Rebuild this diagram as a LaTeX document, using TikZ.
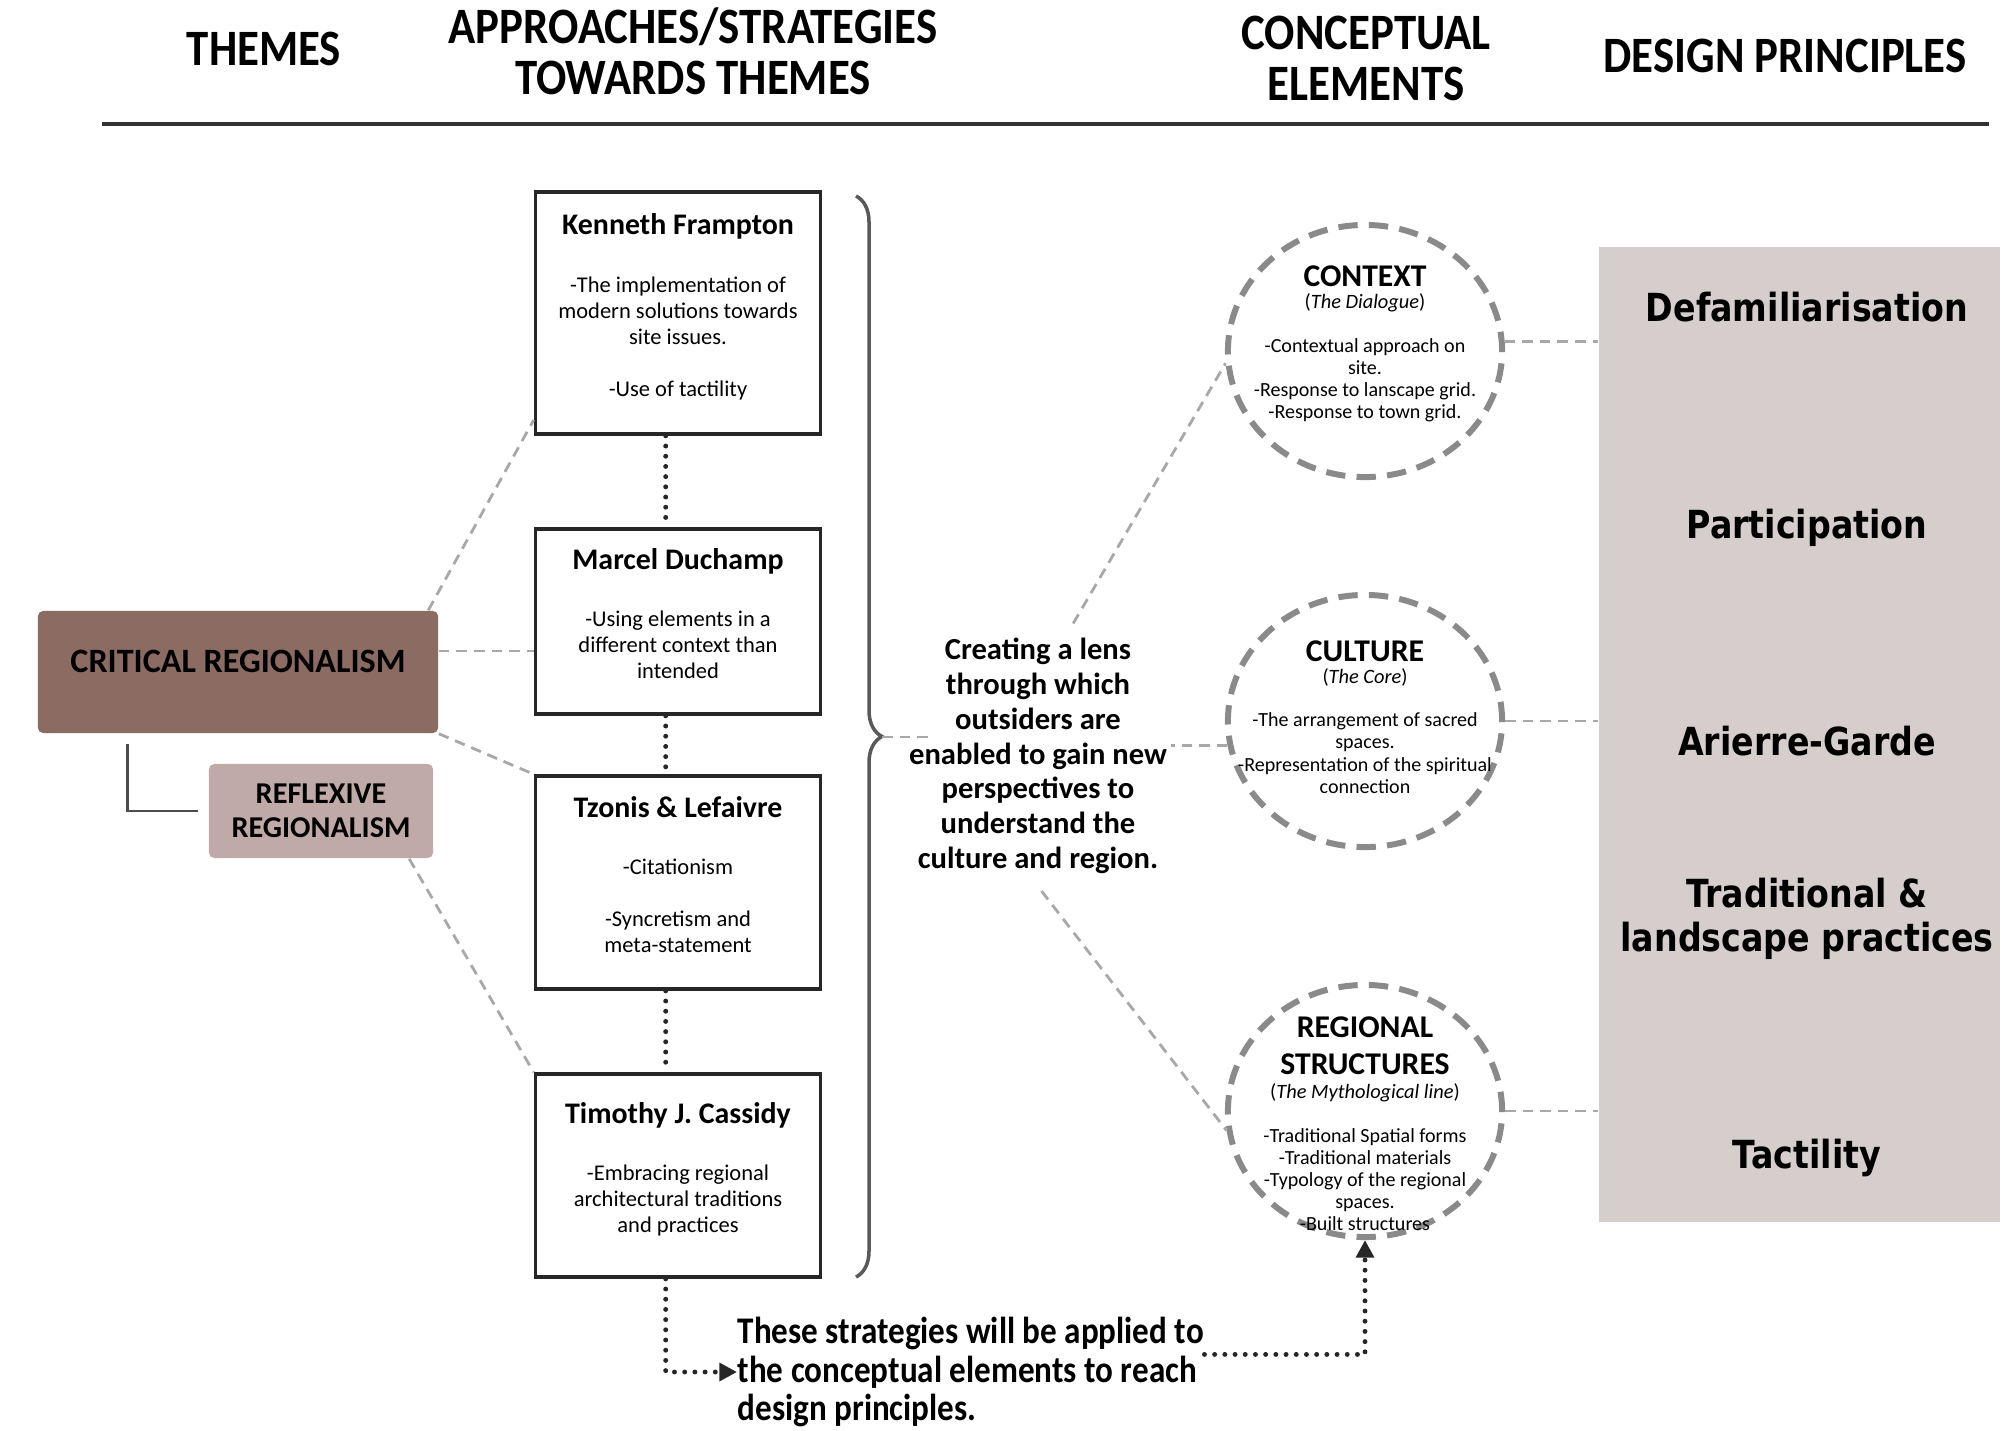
\documentclass[tikz,border=0pt]{standalone}
\usepackage{fontspec}
\setmainfont{Carlito}
\newfontfamily\headfont[FakeStretch=0.88]{Carlito}
\newfontfamily\panelfont[FakeStretch=0.86]{DejaVu Sans}
\usepackage{tikz}
\usetikzlibrary{arrows.meta}
\usetikzlibrary{positioning,calc,decorations.pathreplacing}
\usetikzlibrary{shapes.geometric}
\usepackage{xcolor}
\definecolor{crbrown}{RGB}{139,107,98}
\definecolor{rxpink}{RGB}{191,170,168}
\definecolor{panelgray}{RGB}{214,206,205}
\definecolor{linkgray}{RGB}{168,168,168}
\definecolor{ringgray}{RGB}{138,138,138}
\newcommand{\apname}[1]{{\fontsize{8.5}{10}\selectfont\bfseries #1}}
\newcommand{\ringname}[1]{{\fontsize{9}{10.5}\selectfont\bfseries #1}}
\newcommand{\ringsub}[1]{{\fontsize{5.8}{7}\selectfont(\textit{#1})}}
\tikzset{
    colhead/.style={
        align=center,
        inner sep=0pt,
        font=\headfont\bfseries\fontsize{14.5}{14.5}\selectfont
    },
    theme/.style={
        rounded corners=1.5pt,
        align=center,
        inner sep=0pt
    },
    apbox/.style={
        draw=black!85,
        line width=1pt,
        fill=white,
        minimum width=2.85cm,
        align=center,
        inner sep=2pt,
        text depth=4.5pt,
        font=\fontsize{6.4}{7.4}\selectfont
    },
    ring/.style={
        ellipse,
        draw=ringgray,
        line width=1.7pt,
        dash pattern=on 5.5pt off 3.2pt,
        minimum width=2.74cm,
        minimum height=2.52cm,
        inner sep=0pt
    },
    ringtext/.style={
        align=center,
        inner sep=0pt,
        font=\fontsize{5.7}{6.3}\selectfont
    },
    principle/.style={
        align=center,
        inner sep=0pt,
        font=\panelfont\bfseries\fontsize{11}{12.5}\selectfont
    },
    link/.style={draw=linkgray, line width=0.8pt, dash pattern=on 3pt off 2pt},
    chain/.style={draw=black!85, line width=1.4pt, line cap=round, dash pattern=on 0pt off 2.9pt},
    tie/.style={draw=black!70, line width=0.8pt}
}

\begin{document}
\begin{tikzpicture}[x=0.01cm, y=-0.01cm]
    \useasboundingbox (0,0) rectangle (2009,1430);

    % column heads
    \node[colhead] (h1) at (264,49) {THEMES};
    \node[colhead] (h2) at (693,51) {APPROACHES/STRATEGIES\\TOWARDS THEMES};
    \node[colhead] (h3) at (1366,58) {CONCEPTUAL\\ELEMENTS};
    \node[colhead] (h4) at (1785,56) {DESIGN PRINCIPLES};
    \draw[line width=1.3pt, black!80] (102,124) -- (1989,124);

    % themes
    \node[theme, fill=crbrown, minimum width=4cm, minimum height=1.22cm, text depth=5.8pt, font=\bfseries\fontsize{9.7}{10}\selectfont] (cr) at (238,672) {CRITICAL REGIONALISM};
    \node[theme, fill=rxpink, minimum width=2.24cm, minimum height=0.94cm, font=\bfseries\fontsize{8.6}{9.7}\selectfont] (rr) at (321,811) {REFLEXIVE\\REGIONALISM};
    \draw[tie] ([xshift=25.6pt,yshift=-3pt]cr.south west) |- ([xshift=-3pt]rr.west);

    % approaches
    \node[apbox, minimum height=2.42cm] (kf) at (678,313) {\apname{Kenneth Frampton}\\[9pt] -The implementation of\\ modern solutions towards\\ site issues.\\[7.4pt] -Use of tactility};
    \node[apbox, minimum height=1.85cm] (md) at (678,621.5) {\apname{Marcel Duchamp}\\[9pt] -Using elements in a\\ different context than\\ intended};
    \node[apbox, minimum height=2.13cm] (tl) at (678,882.5) {\apname{Tzonis \& Lefaivre}\\[9pt] -Citationism\\[7.4pt] -Syncretism and\\ meta-statement};
    \node[apbox, minimum height=2.03cm] (tc) at (678,1175.5) {\apname{Timothy J. Cassidy}\\[9pt] -Embracing regional\\ architectural traditions\\ and practices};

    \draw[chain] ([xshift=-3.5pt]kf.south) -- ([xshift=-3.5pt]md.north);
    \draw[chain] ([xshift=-3.5pt]md.south) -- ([xshift=-3.5pt]tl.north);
    \draw[chain] ([xshift=-3.5pt]tl.south) -- ([xshift=-3.5pt]tc.north);

    \draw[link] ([xshift=-3pt]cr.north east) -- ([yshift=4.5pt]kf.south west);
    \draw[link] ($(cr.east)+(0,6pt)$) -- ($(cr.east -| md.west)+(0,6pt)$);
    \draw[link] (cr.south east) -- (tl.north west);
    \draw[link] ([xshift=-7pt]rr.south east) -- (tc.north west);

    % brace and lens
    \draw[draw=black!65, line width=1pt, decorate, decoration={brace, amplitude=0.26cm}] (856,196) -- (856,1277);
    \coordinate (brtip) at (882,737);
    \node[align=center, inner sep=1pt, font=\bfseries\fontsize{8.7}{9.9}\selectfont] (lens) at (1038,756) {Creating a lens\\ through which\\ outsiders are\\ enabled to gain new\\ perspectives to\\ understand the\\ culture and region.};
    \draw[link] (brtip) -- ($(brtip -| lens.west)+(8pt,0)$);

    % conceptual elements
    \node[ring] (ctx) at (1365,351) {};
    \node[ring] (cul) at (1365,721) {};
    \node[ring] (reg) at (1365,1111) {};
    \node[ringtext] (ctxt) at (1365,344) {\ringname{CONTEXT}\\ \ringsub{The Dialogue}\\[6pt] -Contextual approach on\\ site.\\ -Response to lanscape grid.\\ -Response to town grid.};
    \node[ringtext] (cult) at (1365,717) {\ringname{CULTURE}\\ \ringsub{The Core}\\[6pt] -The arrangement of sacred\\ spaces.\\ -Representation of the spiritual\\ connection};
    \node[ringtext] (regt) at (1365,1124) {\ringname{REGIONAL}\\[4.2pt] \ringname{STRUCTURES}\\[0.5pt] \ringsub{The Mythological line}\\[6pt] -Traditional Spatial forms\\ -Traditional materials\\ -Typology of the regional\\ spaces.\\ -Built structures};

    \draw[link] ($(lens.north)+(10pt,3pt)$) -- (ctx.185);
    \draw[link] (cul.190) -- (cul.190 -| lens.east);
    \draw[link] ($(lens.south)+(1pt,-3.7pt)$) -- (reg.188);

    % design principles
    \node[fill=panelgray, minimum width=4.01cm, minimum height=9.75cm, inner sep=0pt] (pnl) at (1799.5,734.5) {};
    \node[principle] (p1) at (1807,307) {Defamiliarisation};
    \node[principle] (p2) at (1807,528) {Participation};
    \node[principle] (p3) at (1807,741) {Arierre-Garde};
    \node[principle] (p4) at (1807,919) {Traditional \&\\ landscape practices};
    \node[principle] (p5) at (1807,1158) {Tactility};

    \draw[link] (ctx.4) -- (ctx.4 -| pnl.west);
    \draw[link] (cul.east) -- (cul.east -| pnl.west);
    \draw[link] (reg.east) -- (reg.east -| pnl.west);

    % closing note
    \node[anchor=west, align=left, inner sep=0pt, font=\headfont\bfseries\fontsize{10.7}{11}\selectfont] (apply) at (737,1372) {These strategies will be applied to\\ the conceptual elements to reach\\ design principles.};
    \draw[chain, -{Triangle[length=5pt, width=5pt]}] ([xshift=-3.5pt]tc.south) |- (apply.west);
    \draw[chain, -{Triangle[length=5pt, width=5pt]}] ($(apply.east)+(0,5pt)$) -| (reg.south);
\end{tikzpicture}
\end{document}
